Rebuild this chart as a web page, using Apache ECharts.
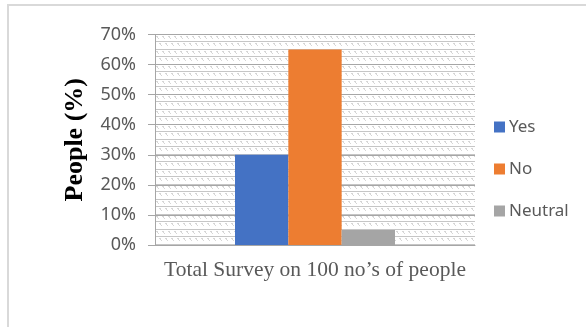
<!DOCTYPE html>
<html>
<head>
<meta charset="utf-8">
<script src="https://cdn.jsdelivr.net/npm/echarts@6/dist/echarts.min.js"></script>
<style>
  html, body { margin: 0; padding: 0; background: #fff; }
  #chart { width: 586px; height: 327px; }
</style>
</head>
<body>
<div id="chart"></div>
<script>
// data
var categories = ['Total Survey'];
var seriesNames = ['Yes', 'No', 'Neutral'];
var yesValues = [30];
var noValues = [65];
var neutralValues = [5];
var yTicks = ['0%', '10%', '20%', '30%', '40%', '50%', '60%', '70%'];

var colors = ['#4472C4', '#ED7D31', '#A5A5A5'];

// hatched plot background (light horizontal lines + little diagonal dashes)
function makeHatch() {
  var c = document.createElement('canvas');
  c.width = 6; c.height = 15;
  var ctx = c.getContext('2d');
  ctx.fillStyle = '#ffffff';
  ctx.fillRect(0, 0, 6, 15);
  ctx.fillStyle = '#c6c6c6';
  ctx.fillRect(0, 4, 6, 1);
  ctx.fillRect(0, 11, 6, 1);
  ctx.fillStyle = '#d6d6d6';
  // dashes "\" between the lines
  [[0, 6], [1, 7], [2, 8], [3, 13], [4, 14], [5, 0], [1, 6], [4, 13]].forEach(function (p) {
    ctx.fillRect(p[0], p[1], 1, 1);
  });
  return c;
}

var myChart = echarts.init(document.getElementById('chart'));

var option = {
  animation: false,
  color: colors,
  graphic: [{
    type: 'rect',
    shape: { x: 8, y: 5, width: 700, height: 500 },
    style: { fill: 'none', stroke: '#d9d9d9', lineWidth: 2 },
    silent: true
  }],
  grid: {
    left: 155, right: 111, top: 34.5, bottom: 82,
    show: true,
    borderWidth: 0,
    backgroundColor: { image: makeHatch(), repeat: 'repeat' }
  },
  legend: {
    orient: 'vertical',
    left: 489,
    top: 113,
    itemWidth: 11,
    itemHeight: 11,
    itemGap: 24,
    icon: 'rect',
    data: seriesNames,
    textStyle: { fontFamily: 'Noto Sans', fontSize: 17, color: '#595959', lineHeight: 18, padding: [0, 0, 0, -1] }
  },
  xAxis: {
    type: 'category',
    data: categories,
    name: 'Total Survey on 100 no\u2019s of people',
    nameLocation: 'middle',
    nameGap: 14,
    nameTextStyle: { fontFamily: 'Liberation Serif', fontSize: 21.5, color: '#595959' },
    axisLine: { lineStyle: { color: '#a6a6a6', width: 1 } },
    axisTick: { show: false },
    axisLabel: { show: false }
  },
  yAxis: {
    type: 'value',
    min: 0,
    max: 70,
    interval: 10,
    name: 'People (%)',
    nameLocation: 'middle',
    nameGap: 67,
    nameTextStyle: { fontFamily: 'Liberation Serif', fontWeight: 'bold', fontSize: 26, color: '#000' },
    axisLine: { show: true, lineStyle: { color: '#a6a6a6' } },
    axisTick: { show: true, inside: false, length: 7, lineStyle: { color: '#a6a6a6' } },
    axisLabel: {
      margin: 19,
      fontFamily: 'Noto Sans',
      fontSize: 18,
      color: '#595959',
      formatter: function (v) { return yTicks[Math.round(v / 10)]; }
    },
    splitLine: { show: true, lineStyle: { color: '#a6a6a6', width: 1 } }
  },
  series: [
    { name: seriesNames[0], type: 'bar', data: yesValues, barGap: '0%', barCategoryGap: '50%' },
    { name: seriesNames[1], type: 'bar', data: noValues, barGap: '0%', barCategoryGap: '50%' },
    { name: seriesNames[2], type: 'bar', data: neutralValues, barGap: '0%', barCategoryGap: '50%' }
  ]
};

myChart.setOption(option);
</script>
</body>
</html>
